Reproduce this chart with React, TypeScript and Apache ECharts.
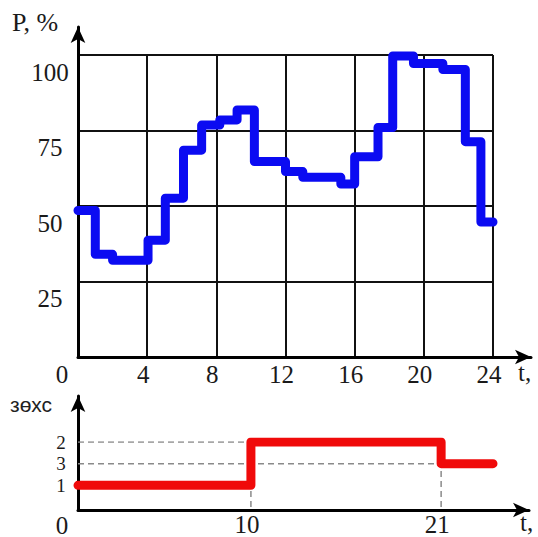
import React, { useEffect, useRef } from 'react';
import * as echarts from 'echarts';

// Top chart: power P (%) vs time t (h), stepwise
const hours = [0, 1, 2, 4.05, 5.05, 6.1, 7.15, 8.2, 9.2, 10.2, 12, 13, 15.2, 16, 17.35, 18.2, 19.4, 21.1, 22.4, 23.3, 24];
const power = [48.5, 34, 32, 38.7, 52.6, 68.5, 76.8, 78.5, 81.8, 64.7, 61.4, 59.5, 57.3, 66.3, 76, 99.7, 97.2, 95.2, 71.3, 44.7, 44.7];
const topXTicks = [0, 4, 8, 12, 16, 20, 24];
const topYTicks = [0, 25, 50, 75, 100];

// Bottom chart: mode (зөхс) vs time
const modeTimes = [0, 10, 21, 24];
const modeLevels = [1, 3, 2, 2];
const levelLabels = ['0', '1', '3', '2'];
const bottomXLabels = [10, 21];
const bottomYLabelsA = [1, 3];
const bottomYLabelsB = [2];

const SERIF = 'Liberation Serif';

export default function App() {
  const ref = useRef<HTMLDivElement>(null);
  useEffect(() => {
    const chart = echarts.init(ref.current!, null, { renderer: 'svg' });
    const labelBase = { fontFamily: SERIF, color: '#1a1a1a' };
    const arrowAxisLine = {
      show: true,
      symbol: ['none', 'arrow'],
      symbolSize: [11, 16],
      lineStyle: { color: '#000', width: 3 },
    };
    const dashed = { color: '#8a8a8a', width: 1.5, type: [6, 4] as any };
    const levelAxis = (values: number[]) => ({
      gridIndex: 2, type: 'value', min: 0, max: 3, position: 'left', offset: 0,
      axisLine: { show: false }, axisTick: { show: false },
      axisLabel: {
        ...labelBase, fontSize: 19, lineHeight: 19, customValues: values,
        showMinLabel: true, showMaxLabel: true,
        align: 'center', margin: 17, formatter: (v: number) => levelLabels[Math.round(v)],
      },
      splitLine: { show: false },
    });
    const option: any = {
      animation: false,
      backgroundColor: '#fff',
      grid: [
        { left: 78, top: 55, width: 415, height: 302 },
        { left: 78, top: 27, width: 453, height: 330 },
        { left: 78, top: 442, width: 415, height: 68 },
        { left: 78, top: 396, width: 451, height: 114 },
      ],
      xAxis: [
        {
          gridIndex: 0, type: 'value', min: topXTicks[0], max: topXTicks[topXTicks.length - 1], interval: 4,
          axisLine: { show: false }, axisTick: { show: false },
          axisLabel: { ...labelBase, fontSize: 25, showMinLabel: false, showMaxLabel: true, margin: 5, padding: [0, 8, 0, 0] },
          splitLine: { show: true, lineStyle: { color: '#111', width: 2 } },
        },
        {
          gridIndex: 1, type: 'value', min: 0, max: 1,
          axisLine: arrowAxisLine, axisTick: { show: false }, axisLabel: { show: false }, splitLine: { show: false },
        },
        {
          gridIndex: 2, type: 'value', min: 0, max: 24,
          axisLine: { show: false }, axisTick: { show: false },
          axisLabel: { ...labelBase, fontSize: 25, customValues: bottomXLabels, margin: 5, padding: [0, 8, 0, 0] },
          splitLine: { show: false },
        },
        {
          gridIndex: 3, type: 'value', min: 0, max: 1,
          axisLine: arrowAxisLine, axisTick: { show: false }, axisLabel: { show: false }, splitLine: { show: false },
        },
      ],
      yAxis: [
        {
          gridIndex: 0, type: 'value', min: topYTicks[0], max: topYTicks[topYTicks.length - 1], interval: 25,
          axisLine: { show: false }, axisTick: { show: false },
          axisLabel: { ...labelBase, fontSize: 25, showMinLabel: false, showMaxLabel: true, align: 'center', margin: 28, verticalAlign: 'top', lineHeight: 34 },
          splitLine: { show: true, lineStyle: { color: '#111', width: 2 } },
        },
        {
          gridIndex: 1, type: 'value', min: 0, max: 1,
          axisLine: arrowAxisLine, axisTick: { show: false }, axisLabel: { show: false }, splitLine: { show: false },
        },
        levelAxis(bottomYLabelsA),
        {
          gridIndex: 3, type: 'value', min: 0, max: 1,
          axisLine: arrowAxisLine, axisTick: { show: false }, axisLabel: { show: false }, splitLine: { show: false },
        },
        levelAxis(bottomYLabelsB),
      ],
      series: [
        {
          type: 'line', xAxisIndex: 2, yAxisIndex: 2, showSymbol: false, silent: true,
          data: [[0, 3], [modeTimes[1], 3]], lineStyle: dashed, z: 1,
        },
        {
          type: 'line', xAxisIndex: 2, yAxisIndex: 2, showSymbol: false, silent: true,
          data: [[0, 2], [modeTimes[2], 2]], lineStyle: dashed, z: 1,
        },
        {
          type: 'line', xAxisIndex: 2, yAxisIndex: 2, showSymbol: false, silent: true,
          data: [[modeTimes[1], 0], [modeTimes[1], 1]], lineStyle: dashed, z: 1,
        },
        {
          type: 'line', xAxisIndex: 2, yAxisIndex: 2, showSymbol: false, silent: true,
          data: [[modeTimes[2], 0], [modeTimes[2], 2]], lineStyle: dashed, z: 1,
        },
        {
          type: 'line', xAxisIndex: 0, yAxisIndex: 0, step: 'end', showSymbol: false, silent: true,
          data: hours.map((t, i) => [t, power[i]]),
          lineStyle: { color: '#0b0bf2', width: 9, cap: 'round', join: 'round' }, z: 5,
        },
        {
          type: 'line', xAxisIndex: 2, yAxisIndex: 2, step: 'end', showSymbol: false, silent: true,
          data: modeTimes.map((t, i) => [t, modeLevels[i]]),
          lineStyle: { color: '#f00a0a', width: 9, cap: 'round', join: 'round' }, z: 5,
        },
      ],
      graphic: [
        { type: 'text', left: 12, top: 9, style: { text: 'P, %', font: `26px "${SERIF}"`, fill: '#1a1a1a' } },
        { type: 'text', x: 62, y: 374, style: { text: '0', font: `25px "${SERIF}"`, fill: '#1a1a1a', align: 'center', verticalAlign: 'middle' } },
        { type: 'text', x: 518, y: 372, style: { text: 't,', font: `25px "${SERIF}"`, fill: '#1a1a1a', verticalAlign: 'middle' } },
        { type: 'text', x: 10, y: 404, style: { text: 'зөхс', font: '21px "Liberation Sans"', fill: '#222', verticalAlign: 'middle' } },
        { type: 'text', x: 62, y: 525, style: { text: '0', font: `25px "${SERIF}"`, fill: '#1a1a1a', align: 'center', verticalAlign: 'middle' } },
        { type: 'text', x: 520, y: 522, style: { text: 't,', font: `25px "${SERIF}"`, fill: '#1a1a1a', verticalAlign: 'middle' } },
      ],
    };
    chart.setOption(option);
    return () => chart.dispose();
  }, []);
  return (
    <div
      ref={ref}
      style={{ position: 'fixed', left: 0, top: 0, width: 538, height: 537, background: '#fff' }}
    />
  );
}
